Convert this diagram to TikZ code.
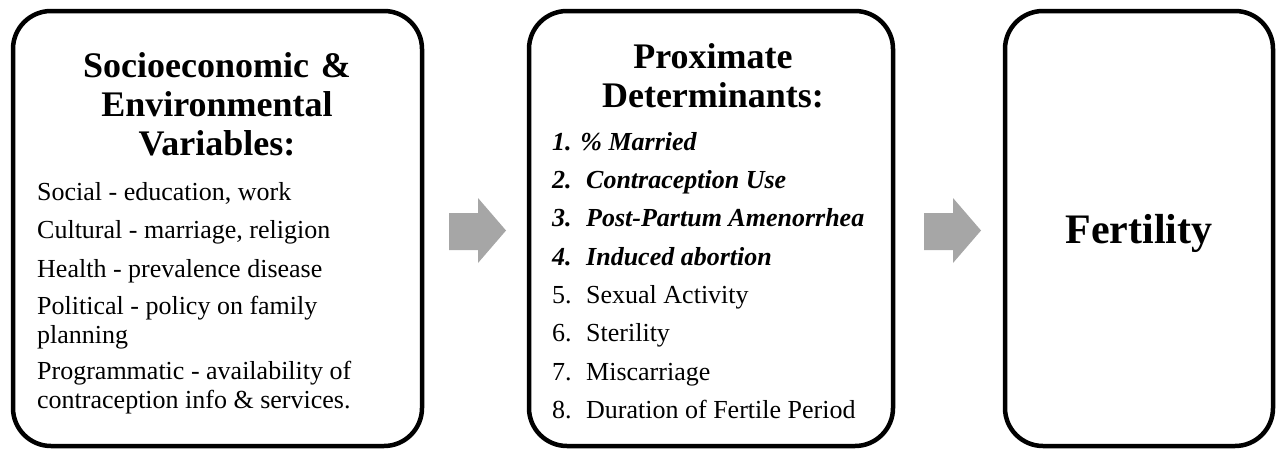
\documentclass[tikz,border=0pt]{standalone}
\usepackage{fontspec}
\setmainfont{Liberation Serif}

\definecolor{arrowgrey}{RGB}{166,166,166}

\tikzset{
  panel/.style={draw, line width=4.5pt, rounded corners=38pt, inner sep=0pt, minimum height=435pt},
  heading/.style={font=\fontsize{36pt}{39pt}\selectfont\bfseries, align=center, inner sep=0pt, anchor=base},
  entry/.style={font=\fontsize{26pt}{28.5pt}\selectfont, align=left, inner sep=0pt, anchor=base west},
  keyentry/.style={entry, font=\fontsize{26pt}{28.5pt}\selectfont\bfseries\itshape},
  blockarrow/.style={fill=arrowgrey, draw=none}
}
\newcommand{\num}[1]{\makebox[34pt][l]{#1}}

\begin{document}
\begin{tikzpicture}[x=1pt, y=-1pt]
\useasboundingbox (0,0) rectangle (1276,450);

% panels
\node[panel, minimum width=409pt] (socio) at (217.5,228.5) {};
\node[panel, minimum width=364pt] (proxi) at (711,228.5) {};
\node[panel, minimum width=268pt] (fert) at (1139,228.5) {};

% left panel (base = last line)
\node[heading] (sociohead) at (217,155) {Socioeconomic\hspace{12pt}\&\\Environmental\\Variables:};
\node[entry] (social) at (37,200) {Social - education, work};
\node[entry] (cultural) at (37,238) {Cultural - marriage, religion};
\node[entry] (health) at (37,277) {Health - prevalence disease};
\node[entry] (political) at (37,343) {Political - policy on family\\planning};
\node[entry] (program) at (37,408) {Programmatic - availability of\\contraception info \& services.};

% middle panel
\node[heading] (proxihead) at (713,107) {Proximate\\Determinants:};
\node[keyentry] (married) at (552,150) {1. \% Married};
\node[keyentry] (contra) at (552,188.3) {\num{2.}Contraception Use};
\node[keyentry] (ppa) at (552,226.6) {\num{3.}Post-Partum Amenorrhea};
\node[keyentry] (abortion) at (552,265) {\num{4.}Induced abortion};
\node[entry] (sexual) at (552,303) {\num{5.}Sexual Activity};
\node[entry] (sterility) at (552,341.5) {\num{6.}Sterility};
\node[entry] (miscarriage) at (552,380) {\num{7.}Miscarriage};
\node[entry] (duration) at (552,418) {\num{8.}Duration of Fertile Period};

% right panel
\node[heading, font=\fontsize{42pt}{46pt}\selectfont\bfseries] (fertlabel) at (1139,243) {Fertility};

% block arrows
\coordinate (arrowA) at (449,213);
\coordinate (arrowB) at (924,213);
\foreach \a in {arrowA,arrowB}
  \fill[blockarrow] (\a) -- ++(29,0) -- ++(0,-15) -- ++(28,32.5) -- ++(-28,32.5) -- ++(0,-13) -- ++(-29,0) -- cycle;

\end{tikzpicture}
\end{document}
